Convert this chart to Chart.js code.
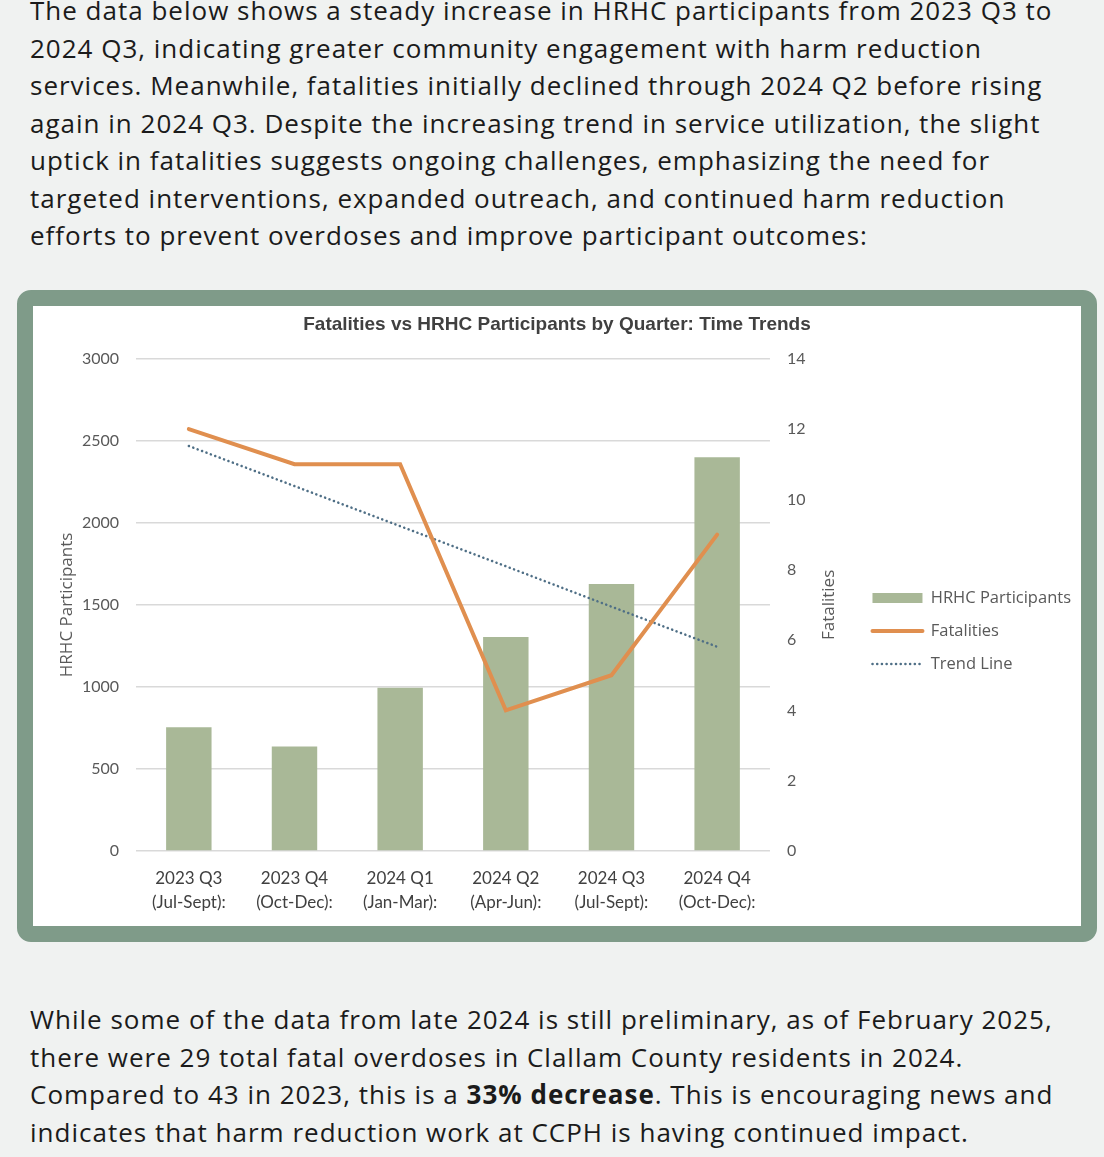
<!DOCTYPE html>
<html>
<head>
<meta charset="utf-8">
<script src="https://cdn.jsdelivr.net/npm/chart.js@4.4.0/dist/chart.umd.min.js"></script>
<style>
  html, body { margin: 0; padding: 0; background: #f0f2f1; }
  body { width: 1104px; height: 1157px; overflow: hidden; position: relative; font-family: 'Open Sans', sans-serif; color: #1b1b1b; }
  .para { position: absolute; left: 30px; font-size: 26px; line-height: 37.5px; letter-spacing: 1px; }
  .para div { white-space: nowrap; }
  #top { top: -8px; }
  #bottom { top: 1001px; }
  #box { position: absolute; left: 17px; top: 290px; width: 1048px; height: 620px; border: 16px solid #7f9b89; border-radius: 14px; background: #fff; }
  #wrap { position: absolute; left: 0; top: 0; width: 1048px; height: 620px; }
</style>
</head>
<body>
<div class="para" id="top">
  <div>The data below shows a steady increase in HRHC participants from 2023 Q3 to</div>
  <div>2024 Q3, indicating greater community engagement with harm reduction</div>
  <div>services. Meanwhile, fatalities initially declined through 2024 Q2 before rising</div>
  <div>again in 2024 Q3. Despite the increasing trend in service utilization, the slight</div>
  <div>uptick in fatalities suggests ongoing challenges, emphasizing the need for</div>
  <div>targeted interventions, expanded outreach, and continued harm reduction</div>
  <div>efforts to prevent overdoses and improve participant outcomes:</div>
</div>

<div id="box">
  <div id="wrap"><canvas id="myChart"></canvas></div>
</div>

<div class="para" id="bottom">
  <div>While some of the data from late 2024 is still preliminary, as of February 2025,</div>
  <div>there were 29 total fatal overdoses in Clallam County residents in 2024.</div>
  <div>Compared to 43 in 2023, this is a <b>33% decrease</b>. This is encouraging news and</div>
  <div>indicates that harm reduction work at CCPH is having continued impact.</div>
</div>

<script>
// values
const quarters = [
  ['2023 Q3', '(Jul-Sept):'],
  ['2023 Q4', '(Oct-Dec):'],
  ['2024 Q1', '(Jan-Mar):'],
  ['2024 Q2', '(Apr-Jun):'],
  ['2024 Q3', '(Jul-Sept):'],
  ['2024 Q4', '(Oct-Dec):']
];
const participants = [755, 637, 995, 1304, 1627, 2400];
const fatalities = [12, 11, 11, 4, 5, 9];
const trendLine = [11.52, 10.38, 9.24, 8.10, 6.95, 5.81];

const tickGrey = '#595959';

// right axis title reads bottom-to-top like the left one
const rightTitle = {
  id: 'rightTitle',
  afterDraw(chart) {
    const s = chart.scales.y1;
    const ctx = chart.ctx;
    ctx.save();
    ctx.translate(s.right - 27, (chart.chartArea.top + chart.chartArea.bottom) / 2);
    ctx.rotate(-Math.PI / 2);
    ctx.font = '17px "Open Sans"';
    ctx.fillStyle = tickGrey;
    ctx.textAlign = 'center';
    ctx.textBaseline = 'middle';
    ctx.fillText('Fatalities', 0, 0);
    ctx.restore();
  }
};

const ctx = document.getElementById('myChart').getContext('2d');
const myChart = new Chart(ctx, {
  type: 'bar',
  data: {
    labels: quarters,
    datasets: [{
      type: 'bar',
      label: 'HRHC Participants',
      data: participants,
      backgroundColor: '#a9b897',
      borderColor: '#a9b897',
      yAxisID: 'y',
      barPercentage: 0.43,
      categoryPercentage: 1,
      order: 3
    }, {
      type: 'line',
      label: 'Fatalities',
      data: fatalities,
      borderColor: '#e08f4f',
      backgroundColor: '#e08f4f',
      borderWidth: 4,
      borderCapStyle: 'round',
      pointRadius: 0,
      tension: 0,
      yAxisID: 'y1',
      order: 1
    }, {
      type: 'line',
      label: 'Trend Line',
      data: trendLine,
      borderColor: '#4f6f86',
      backgroundColor: '#4f6f86',
      borderWidth: 2.5,
      borderDash: [0.1, 4.6],
      borderCapStyle: 'round',
      pointRadius: 0,
      tension: 0,
      yAxisID: 'y1',
      order: 2
    }]
  },
  options: {
    responsive: true,
    maintainAspectRatio: false,
    animation: false,
    layout: { padding: 0 },
    plugins: {
      title: {
        display: true,
        text: 'Fatalities vs HRHC Participants by Quarter: Time Trends',
        color: '#404040',
        font: { family: '"Liberation Sans", sans-serif', size: 19, weight: 'bold' },
        padding: { top: 7, bottom: 23 }
      },
      legend: {
        position: 'right',
        maxWidth: 240,
        title: { display: true, text: '', font: { size: 25 }, padding: 0 },
        labels: {
          usePointStyle: true,
          pointStyleWidth: 50,
          boxHeight: 10,
          padding: 16.5,
          color: tickGrey,
          font: { family: '"Open Sans"', size: 16.5 },
          generateLabels: chart => chart.data.datasets.map((ds, i) => ({
            text: ds.label,
            datasetIndex: i,
            fillStyle: ds.backgroundColor,
            strokeStyle: ds.borderColor,
            lineWidth: ds.type === 'bar' ? 0 : ds.borderWidth,
            lineDash: ds.borderDash || [],
            lineCap: ds.type === 'bar' ? 'butt' : 'round',
            pointStyle: ds.type === 'bar' ? 'rect' : 'line',
            fontColor: tickGrey,
            hidden: false
          }))
        }
      },
      tooltip: { enabled: false }
    },
    scales: {
      x: {
        grid: { display: false, drawTicks: false },
        border: { display: false },
        ticks: {
          color: '#404040',
          padding: 16,
          maxRotation: 0,
          font: { family: 'Lato', size: 17, lineHeight: 1.4 }
        },
        afterFit: s => { s.height = 75; }
      },
      y: {
        position: 'left',
        min: 0,
        max: 3000,
        grid: { color: '#d9d9d9', lineWidth: 1.5, drawTicks: false },
        border: { display: false },
        ticks: { stepSize: 500, padding: 17, color: tickGrey, font: { family: 'Lato', size: 16 }, callback: v => String(v) },
        title: {
          display: true,
          text: 'HRHC Participants',
          color: tickGrey,
          font: { family: '"Open Sans"', size: 17 },
          padding: { top: 24, bottom: 0 }
        },
        afterFit: s => { s.width = 103; }
      },
      y1: {
        position: 'right',
        min: 0,
        max: 14,
        grid: { drawOnChartArea: false, drawTicks: false },
        border: { display: false },
        ticks: { stepSize: 2, padding: 17, color: tickGrey, font: { family: 'Lato', size: 16 }, callback: v => String(v) },
        afterFit: s => { s.width = 86; }
      }
    }
  },
  plugins: [rightTitle]
});
</script>
</body>
</html>
